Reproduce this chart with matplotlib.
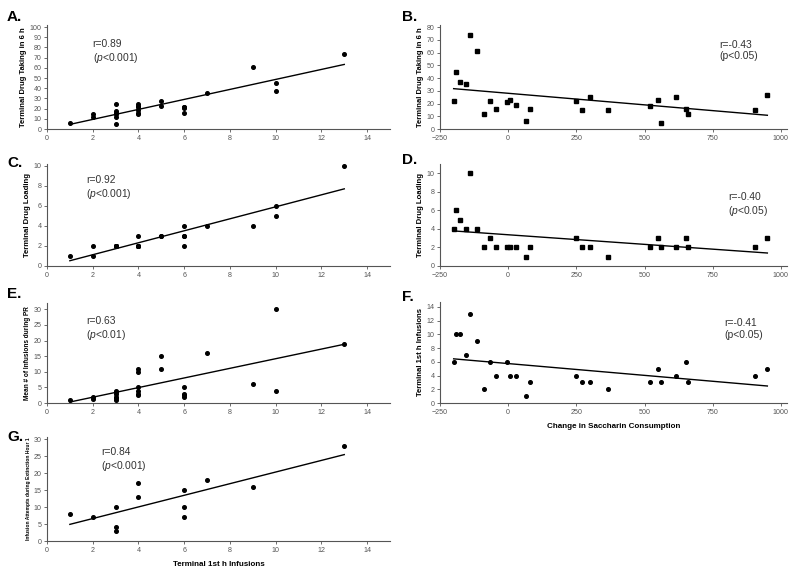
import numpy as np
import matplotlib
matplotlib.use('Agg')
import matplotlib.pyplot as plt

plt.rcParams['font.family'] = ['Liberation Sans', 'DejaVu Sans']
plt.rcParams['mathtext.fontset'] = 'custom'
plt.rcParams['mathtext.rm'] = 'Liberation Sans'
plt.rcParams['mathtext.it'] = 'Liberation Sans:italic'

# Change in saccharin consumption (right-hand panels)
sacch_change = [-200, -190, -175, -155, -140, -115, -90, -65, -45, -5, 5, 30, 65, 80,
                250, 270, 300, 365, 520, 550, 560, 615, 650, 660, 905, 950]
# Terminal 1st h infusions (x of A, C, E; y of F)
first_h = [6, 10, 10, 7, 13, 9, 2, 6, 4, 6, 4, 4, 1, 3, 4, 3, 3, 2, 3, 5, 3, 4, 6, 3, 4, 5]
# Terminal drug taking in 6 h
drug_taking = [22, 45, 37, 35, 74, 61, 12, 22, 16, 21, 23, 19, 6, 16, 22, 15, 25, 15, 18, 23,
               5, 25, 16, 12, 15, 27]
# Terminal drug loading
drug_loading = [4, 6, 5, 4, 10, 4, 2, 3, 2, 2, 2, 2, 1, 2, 3, 2, 2, 1, 2, 3, 2, 2, 3, 2, 2, 3]
# Mean # of infusions during PR
pr_infusions = [5, 30, 4, 16, 19, 6, 2, 3, 11, 2.5, 10, 5, 1, 4, 4, 3.5, 3, 1.3, 2, 15,
                1.5, 3, 2, 1, 2.5, 11]
# Panel G (subset of animals)
g_first_h = [1, 2, 3, 3, 3, 4, 4, 6, 6, 6, 7, 9, 13]
g_attempts = [8, 7, 10, 4, 3, 17, 13, 15, 10, 7, 18, 16, 28]

W, H = 800, 577
fig = plt.figure(figsize=(8, 5.77), dpi=100)


def make_ax(left, right, bottom, top):
    return fig.add_axes([left / W, 1 - bottom / H, (right - left) / W, (bottom - top) / H])


def style(ax):
    for s in ['top', 'right']:
        ax.spines[s].set_visible(False)
    for s in ['left', 'bottom']:
        ax.spines[s].set_color('#555555')
        ax.spines[s].set_linewidth(0.8)
    ax.tick_params(direction='out', length=2.5, width=0.6, colors='#555555',
                   labelsize=5.1, labelcolor='#555555', pad=1.5)


def scatter_fit(ax, x, y, marker, ms):
    x = np.array(x, dtype=float)
    y = np.array(y, dtype=float)
    ax.plot(x, y, linestyle='none', marker=marker, ms=ms, color='black', mec='black', zorder=3)
    k, b = np.polyfit(x, y, 1)
    xx = np.array([x.min(), x.max()])
    ax.plot(xx, k * xx + b, color='black', lw=1.0)


def stat_text(ax, x, y, r, p, italic_p):
    pstr = '($p$<' + p + ')' if italic_p else '(p<' + p + ')'
    ax.text(x, y, r + '\n' + pstr, fontsize=7.4, color='#333333', va='top', ha='left',
            linespacing=1.2)


def letter(px, py, s):
    fig.text(px / W, 1 - py / H, s, fontsize=11, fontweight='bold', va='center', ha='left')


ylab_kw = dict(fontweight='bold', labelpad=2)
xlab_kw = dict(fontsize=5.8, fontweight='bold', labelpad=5)

# A
ax = make_ax(47, 390, 129, 25)
style(ax)
scatter_fit(ax, first_h, drug_taking, 'o', 2.6)
ax.set_xlim(0, 15)
ax.set_ylim(0, 102)
ax.set_xticks(range(0, 15, 2))
ax.set_yticks(range(0, 101, 10))
ax.set_ylabel('Terminal Drug Taking in 6 h', fontsize=5.5, **ylab_kw)
stat_text(ax, 2.0, 88, 'r=0.89', '0.001', True)
letter(7, 17, 'A.')

# B
ax = make_ax(440, 787, 129, 25)
style(ax)
scatter_fit(ax, sacch_change, drug_taking, 's', 2.6)
ax.set_xlim(-250, 1022)
ax.set_ylim(0, 81.6)
ax.set_xticks([-250, 0, 250, 500, 750, 1000])
ax.set_yticks(range(0, 81, 10))
ax.set_ylabel('Terminal Drug Taking in 6 h', fontsize=5.5, **ylab_kw)
stat_text(ax, 773, 70, 'r=-0.43', '0.05', False)
letter(402, 17, 'B.')

# C
ax = make_ax(47, 390, 266, 164)
style(ax)
scatter_fit(ax, first_h, drug_loading, 'o', 2.6)
ax.set_xlim(0, 15)
ax.set_ylim(0, 10.2)
ax.set_xticks(range(0, 15, 2))
ax.set_yticks(range(0, 11, 2))
ax.set_ylabel('Terminal Drug Loading', fontsize=5.6, **ylab_kw)
stat_text(ax, 1.7, 9.1, 'r=0.92', '0.001', True)
letter(7, 163, 'C.')

# D
ax = make_ax(440, 787, 266, 164)
style(ax)
scatter_fit(ax, sacch_change, drug_loading, 's', 2.6)
ax.set_xlim(-250, 1022)
ax.set_ylim(0, 11)
ax.set_xticks([-250, 0, 250, 500, 750, 1000])
ax.set_yticks(range(0, 11, 2))
ax.set_ylabel('Terminal Drug Loading', fontsize=5.6, **ylab_kw)
stat_text(ax, 806, 8.0, 'r=-0.40', '0.05', True)
letter(402, 160, 'D.')

# E
ax = make_ax(47, 390, 403, 303)
style(ax)
scatter_fit(ax, first_h, pr_infusions, 'o', 2.6)
ax.set_xlim(0, 15)
ax.set_ylim(0, 32)
ax.set_xticks(range(0, 15, 2))
ax.set_yticks(range(0, 31, 5))
ax.set_ylabel('Mean # of Infusions during PR', fontsize=4.7, **ylab_kw)
stat_text(ax, 1.7, 27.8, 'r=0.63', '0.01', True)
letter(7, 294, 'E.')

# F
ax = make_ax(440, 787, 403, 302)
style(ax)
scatter_fit(ax, sacch_change, first_h, 'o', 2.6)
ax.set_xlim(-250, 1022)
ax.set_ylim(0, 14.7)
ax.set_xticks([-250, 0, 250, 500, 750, 1000])
ax.set_yticks(range(0, 15, 2))
ax.set_ylabel('Terminal 1st h Infusions', fontsize=5.6, **ylab_kw)
ax.set_xlabel('Change in Saccharin Consumption', **xlab_kw)
stat_text(ax, 791, 12.3, 'r=-0.41', '0.05', False)
letter(402, 297, 'F.')

# G
ax = make_ax(47, 390, 541, 437)
style(ax)
scatter_fit(ax, g_first_h, g_attempts, 'o', 2.6)
ax.set_xlim(0, 15)
ax.set_ylim(0, 30.6)
ax.set_xticks(range(0, 15, 2))
ax.set_yticks(range(0, 31, 5))
ax.set_ylabel('Infusion Attempts during Extinction Hour 1', fontsize=3.6, **ylab_kw)
ax.set_xlabel('Terminal 1st h Infusions', **xlab_kw)
stat_text(ax, 2.36, 27.8, 'r=0.84', '0.001', True)
letter(7, 437, 'G.')

fig.savefig('out.png', dpi=100)
